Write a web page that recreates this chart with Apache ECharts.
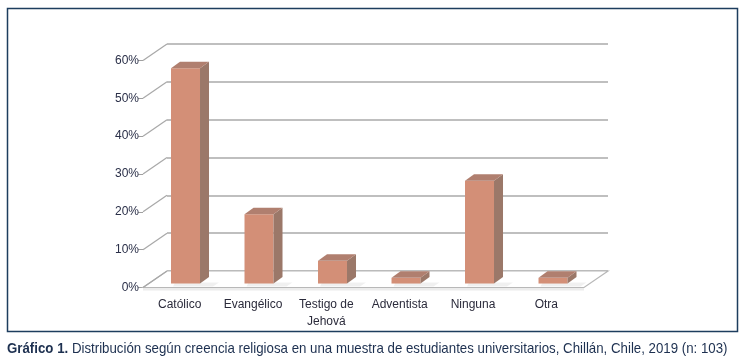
<!DOCTYPE html>
<html>
<head>
<meta charset="utf-8">
<script src="https://cdn.jsdelivr.net/npm/echarts@6/dist/echarts.min.js"></script>
<style>
html,body{margin:0;padding:0;background:#fff;}
#c{width:747px;height:364px;}
</style>
</head>
<body>
<div id="c"></div>
<script>
const categories = ['Católico', 'Evangélico', 'Testigo de\nJehová', 'Adventista', 'Ninguna', 'Otra'];
const values = [56.9, 18.3, 6.0, 1.5, 27.2, 1.5];
const yTicks = [0, 10, 20, 30, 40, 50, 60];
const captionBold = 'Gráfico 1.';
const captionText = ' Distribución según creencia religiosa en una muestra de estudiantes universitarios, Chillán, Chile, 2019 (n: 103)';

const DEPTH = [-24, 16.5];      // back wall -> front plane
const BAR_POS = 0.76;           // bar front face depth fraction
const BAR_W = 29, BAR_D = [9, -6.5];
const FRONT = '#d38f77', SIDE = '#9b7869', TOP = '#b07f6f';
const GRID_COLOR = '#bfbfbf';
const SANS = '"Liberation Sans", Arial, sans-serif';

const chart = echarts.init(document.getElementById('c'), null, {renderer: 'canvas'});

const option = {
  animation: false,
  backgroundColor: '#ffffff',
  grid: [
    {left: 167, top: 44, width: 441, height: 227},
    {left: 143, top: 60.5, width: 440, height: 227}
  ],
  xAxis: [
    {gridIndex: 0, type: 'category', data: categories, axisLine: {show: false}, axisTick: {show: false}, axisLabel: {show: false}},
    {gridIndex: 1, type: 'category', data: categories, axisLine: {show: false}, axisTick: {show: false},
     axisLabel: {margin: 9, color: '#2b2b3b', fontFamily: SANS, fontSize: 12, lineHeight: 17, interval: 0}}
  ],
  yAxis: [
    {gridIndex: 0, type: 'value', min: 0, max: 60, interval: 10, axisLine: {show: false}, axisTick: {show: false},
     axisLabel: {show: false}, splitLine: {show: true, lineStyle: {color: GRID_COLOR, width: 2}}},
    {gridIndex: 1, type: 'value', min: 0, max: 60, interval: 10, axisLine: {show: false},
     axisTick: {show: true, length: 5, lineStyle: {color: '#a0a0a0', width: 1}},
     splitLine: {show: false},
     axisLabel: {margin: 4, color: '#2a2f48', fontFamily: SANS, fontSize: 12, formatter: '{value}%'}}
  ],
  series: [
    {
      type: 'custom', xAxisIndex: 0, yAxisIndex: 0, z: 1,
      data: [[0]],
      renderItem: function (params, api) {
        const cs = params.coordSys;
        const by = api.coord([0, 0])[1];
        const bl = [cs.x, by], br = [cs.x + cs.width, by];
        const fl = [bl[0] + DEPTH[0], by + DEPTH[1]], fr = [br[0] + DEPTH[0], by + DEPTH[1]];
        return {type: 'group', children: [
          {type: 'polygon', shape: {points: [fl, fr, [fr[0], fr[1] + 3], [fl[0], fl[1] + 3]]},
           style: {fill: '#ececec', stroke: null}},
          {type: 'polygon', shape: {points: [bl, br, fr, fl]},
           style: {fill: '#ffffff', stroke: '#b8b8b8', lineWidth: 1.2}}
        ]};
      }
    },
    {
      type: 'custom', xAxisIndex: 0, yAxisIndex: 0, z: 2,
      data: yTicks.map(v => [0, v]),
      renderItem: function (params, api) {
        const cs = params.coordSys;
        const y = api.coord([0, api.value(1)])[1];
        return {type: 'line', shape: {x1: cs.x, y1: y, x2: cs.x + DEPTH[0], y2: y + DEPTH[1]},
                style: {stroke: '#a8a8a8', lineWidth: 1.2}};
      }
    },
    {
      type: 'custom', xAxisIndex: 0, yAxisIndex: 0, z: 3,
      data: values.map((v, i) => [i, v]),
      renderItem: function (params, api) {
        const i = api.value(0), v = api.value(1);
        const t = api.coord([i, v]), b = api.coord([i, 0]);
        const ox = DEPTH[0] * BAR_POS, oy = DEPTH[1] * BAR_POS;
        const cx = t[0] + ox;
        const x0 = cx - BAR_W / 2, x1 = cx + BAR_W / 2;
        const yt = t[1] + oy, yb = b[1] + oy;
        const dx = BAR_D[0], dy = BAR_D[1];
        return {type: 'group', children: [
          {type: 'polygon', shape: {points: [[x0 + 4, yb - 1], [x1 + dx + 10, yb - 1], [x1 + dx + 4, yb + 3], [x0 + 2, yb + 3]]},
           style: {fill: 'rgba(0,0,0,0.06)'}},
          {type: 'rect', shape: {x: x0, y: yt, width: BAR_W, height: yb - yt}, style: {fill: FRONT}},
          {type: 'polygon', shape: {points: [[x1, yt], [x1 + dx, yt + dy], [x1 + dx, yb + dy], [x1, yb]]}, style: {fill: SIDE}},
          {type: 'polygon', shape: {points: [[x0, yt], [x0 + dx, yt + dy], [x1 + dx, yt + dy], [x1, yt]]}, style: {fill: TOP}}
        ]};
      }
    }
  ],
  graphic: [
    {type: 'rect', shape: {x: 7.5, y: 8.5, width: 730, height: 323}, style: {fill: null, stroke: '#1d3d5e', lineWidth: 1.5}, z: 10, silent: true},
    {type: 'text', x: 7, y: 349, scaleX: 0.915, z: 10,
     style: {text: '{b|' + captionBold + '}' + '{r|' + captionText + '}', verticalAlign: 'middle',
       rich: {
         b: {fontFamily: SANS, fontWeight: 'bold', fontSize: 14.5, fill: '#1d3050'},
         r: {fontFamily: SANS, fontSize: 14.5, fill: '#1d3050'}
       }}}
  ]
};
chart.setOption(option);
</script>
</body>
</html>
